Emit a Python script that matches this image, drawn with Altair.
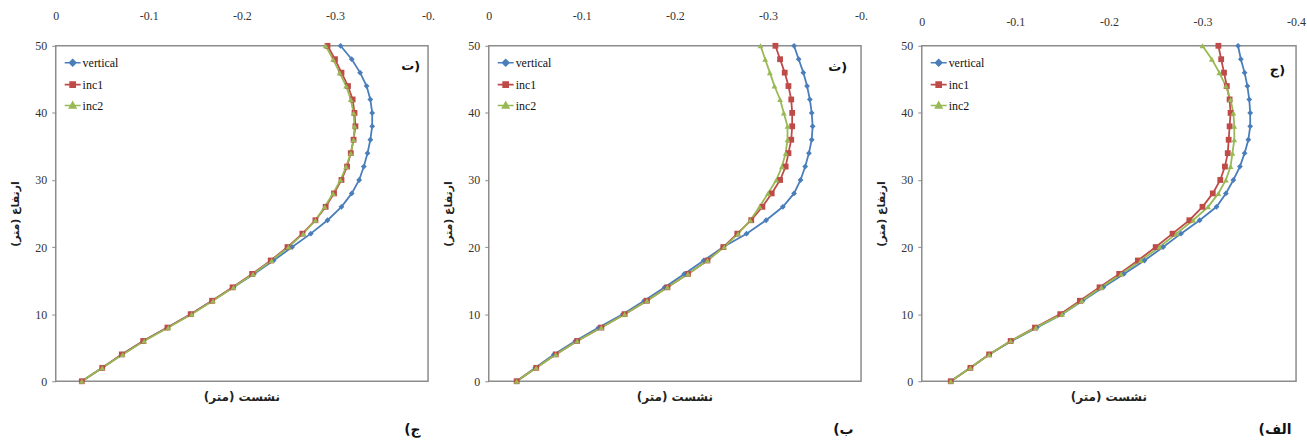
import altair as alt
import pandas as pd

heights = [0, 2, 4, 6, 8, 10, 12, 14, 16, 18, 20, 22, 24, 26, 28, 30, 32, 34, 36, 38, 40, 42, 44, 46, 48, 50]

series_names = ["vertical", "inc1", "inc2"]
series_colors = ["#4a7ebb", "#be4b48", "#98b954"]
marker_shapes = ["diamond", "square", "triangle-up"]
legend_shapes = [
    "M-1,0H1M0,-0.4L0.4,0L0,0.4L-0.4,0Z",
    "M-1,0H1M-0.32,-0.32H0.32V0.32H-0.32Z",
    "M-1,0H1M0,-0.42L0.4,0.3H-0.4Z",
]

panel_tags = ["ت)", "ث)", "ج)"]
panel_captions = ["(ج", "(ب", "(الف"]
x_ticks = [0, -0.1, -0.2, -0.3, -0.4]
y_ticks = [0, 10, 20, 30, 40, 50]
x_title = "نشست (متر)"
y_title = "ارتفاع (متر)"

# settlement (m) at each height, panel ت (left)
p1_vertical = [-0.028, -0.050, -0.071, -0.094, -0.120, -0.145, -0.168, -0.191, -0.213, -0.234, -0.254, -0.274, -0.292,
               -0.307, -0.318, -0.326, -0.331, -0.335, -0.338, -0.340, -0.340, -0.338, -0.334, -0.327, -0.318, -0.306]
p1_inc1 = [-0.028, -0.050, -0.071, -0.094, -0.120, -0.145, -0.168, -0.190, -0.211, -0.231, -0.249, -0.265, -0.279,
           -0.290, -0.299, -0.307, -0.313, -0.317, -0.320, -0.322, -0.321, -0.319, -0.314, -0.307, -0.300, -0.292]
p1_inc2 = [-0.028, -0.050, -0.072, -0.095, -0.121, -0.146, -0.169, -0.191, -0.212, -0.232, -0.250, -0.266, -0.279,
           -0.289, -0.298, -0.306, -0.312, -0.317, -0.320, -0.321, -0.320, -0.317, -0.312, -0.305, -0.298, -0.290]

# panel ث (middle)
p2_vertical = [-0.030, -0.050, -0.070, -0.093, -0.118, -0.144, -0.167, -0.189, -0.210, -0.231, -0.252, -0.277, -0.298,
               -0.316, -0.328, -0.335, -0.340, -0.344, -0.347, -0.348, -0.347, -0.345, -0.342, -0.338, -0.333, -0.328]
p2_inc1 = [-0.030, -0.051, -0.072, -0.095, -0.121, -0.146, -0.170, -0.192, -0.214, -0.235, -0.252, -0.267, -0.282,
           -0.294, -0.304, -0.313, -0.319, -0.322, -0.325, -0.326, -0.326, -0.325, -0.322, -0.318, -0.313, -0.308]
p2_inc2 = [-0.030, -0.051, -0.072, -0.095, -0.121, -0.146, -0.170, -0.192, -0.214, -0.235, -0.253, -0.268, -0.281,
           -0.291, -0.300, -0.309, -0.315, -0.319, -0.321, -0.321, -0.317, -0.313, -0.307, -0.302, -0.297, -0.292]

# panel ج (right)
p3_vertical = [-0.031, -0.052, -0.072, -0.096, -0.123, -0.150, -0.172, -0.194, -0.216, -0.238, -0.258, -0.277, -0.297,
               -0.315, -0.325, -0.333, -0.340, -0.345, -0.349, -0.351, -0.351, -0.350, -0.348, -0.345, -0.341, -0.338]
p3_inc1 = [-0.031, -0.052, -0.072, -0.095, -0.121, -0.148, -0.169, -0.190, -0.211, -0.231, -0.250, -0.268, -0.286,
           -0.300, -0.311, -0.319, -0.324, -0.327, -0.328, -0.329, -0.330, -0.329, -0.326, -0.323, -0.320, -0.317]
p3_inc2 = [-0.031, -0.052, -0.072, -0.095, -0.122, -0.150, -0.171, -0.192, -0.213, -0.234, -0.254, -0.272, -0.290,
           -0.306, -0.317, -0.325, -0.330, -0.332, -0.334, -0.334, -0.333, -0.330, -0.325, -0.318, -0.310, -0.300]

panels_values = [
    [p1_vertical, p1_inc1, p1_inc2],
    [p2_vertical, p2_inc1, p2_inc2],
    [p3_vertical, p3_inc1, p3_inc2],
]

SERIF = "Liberation Serif, Times New Roman, serif"
ARABIC = "DejaVu Sans"
H = 337


def make_panel(values, tag, caption, width, tag_right, tag_y, cut_last, top_pad):
    rows = []
    for name, vals in zip(series_names, values):
        for h, d in zip(heights, vals):
            rows.append({"series": name, "h": h, "d": d})
    df = pd.DataFrame(rows)
    base = alt.Chart(df)

    if cut_last:
        lexpr = "datum.value == 0 ? '0' : (datum.value < -0.35 ? '-0.' : '-' + format(-datum.value, '.1f'))"
    else:
        lexpr = "datum.value == 0 ? '0' : '-' + format(-datum.value, '.1f')"

    xscale = alt.Scale(domain=[0, -0.4], nice=False, zero=False)
    yscale = alt.Scale(domain=[0, 50], nice=False, zero=False)

    x_axis_def = alt.Axis(
        orient="top", values=x_ticks, labelExpr=lexpr, title=None, ticks=False,
        domain=False, grid=False, labelPadding=top_pad, labelFont=SERIF, labelFontSize=12,
        labelColor="#333333", labelFlush=False, labelOverlap=False)
    y_axis_def = alt.Axis(
        values=y_ticks, title=y_title, grid=False, domain=False, ticks=True, tickSize=4,
        tickColor="#8c8c8c", labelPadding=5, labelFont=SERIF, labelFontSize=12,
        labelColor="#333333", titleFont=ARABIC, titleFontSize=11, titleFontWeight="bold",
        titleColor="#222222", titlePadding=14)

    x_enc = alt.X("d:Q", scale=xscale, axis=x_axis_def)
    y_enc = alt.Y("h:Q", scale=yscale, axis=y_axis_def)

    color_plain = alt.Color("series:N", scale=alt.Scale(domain=series_names, range=series_colors), legend=None)

    lines = base.mark_line(strokeWidth=1.8).encode(
        x=x_enc, y=y_enc, color=color_plain, order="h:Q")

    points = base.mark_point(filled=True, size=34, opacity=1).encode(
        x=x_enc, y=y_enc, color=color_plain,
        shape=alt.Shape("series:N", scale=alt.Scale(domain=series_names, range=marker_shapes), legend=None))

    leg = alt.Legend(
        orient="top-left", title=None, offset=8, padding=0, labelFont=SERIF, labelFontSize=12,
        labelColor="#111111", symbolSize=256, symbolStrokeWidth=1.6, symbolOpacity=1,
        rowPadding=6, labelOffset=1)
    legend_layer = base.mark_point(filled=True, opacity=0).encode(
        x=x_enc, y=y_enc,
        color=alt.Color("series:N", scale=alt.Scale(domain=series_names, range=series_colors), legend=leg),
        stroke=alt.Stroke("series:N", scale=alt.Scale(domain=series_names, range=series_colors), legend=leg),
        shape=alt.Shape("series:N", scale=alt.Scale(domain=series_names, range=legend_shapes), legend=leg))

    tag_layer = alt.Chart(pd.DataFrame({"t": [tag]})).mark_text(
        font=ARABIC, fontSize=13, fontWeight="bold", align="right", baseline="middle", color="#111111"
    ).encode(text="t:N", x=alt.value(width - tag_right), y=alt.value(tag_y))

    xt_layer = alt.Chart(pd.DataFrame({"t": [x_title]})).mark_text(
        font=ARABIC, fontSize=12, fontWeight="bold", align="center", baseline="middle", color="#222222"
    ).encode(text="t:N", x=alt.value(width / 2), y=alt.value(H + 16))

    return alt.layer(lines, points, legend_layer, tag_layer, xt_layer).resolve_scale(
        color="independent", shape="independent", stroke="independent"
    ).properties(
        width=width, height=H,
        title=alt.TitleParams(caption, orient="bottom", anchor="end", offset=20, dx=-14,
                              font=ARABIC, fontSize=14, fontWeight="bold", color="#111111"),
    )


p1 = make_panel(panels_values[0], panel_tags[0], panel_captions[0], 374, 8, 20, True, 23)
p2 = make_panel(panels_values[1], panel_tags[1], panel_captions[1], 374, 14, 21, True, 23)
p3 = make_panel(panels_values[2], panel_tags[2], panel_captions[2], 376, 11, 24, False, 17)

chart = alt.hconcat(
    alt.vconcat(p1), alt.vconcat(p2), alt.vconcat(p3), spacing=6, bounds="full"
).configure_view(
    stroke="#8c8c8c", strokeWidth=1.5
).properties(
    padding={"left": 9, "top": 8, "right": 0, "bottom": 0},
    background="white",
)

chart.save("out.html", embed_options={"renderer": "svg", "actions": False})
